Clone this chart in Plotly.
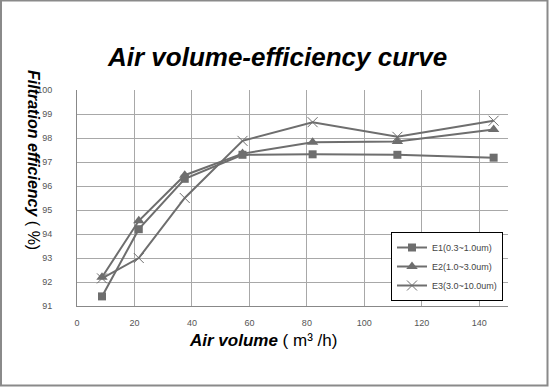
import plotly.graph_objects as go

air_volume = [8.7, 21.5, 37.5, 57.6, 82, 111.5, 145]
e1 = [91.4, 94.2, 96.3, 97.3, 97.32, 97.3, 97.18]
e2 = [92.2, 94.55, 96.45, 97.35, 97.82, 97.85, 98.35]
e3 = [92.15, 93.0, 95.5, 97.88, 98.66, 98.05, 98.72]
names = ["E1(0.3~1.0um)", "E2(1.0~3.0um)", "E3(3.0~10.0um)"]
x_ticks = [0, 20, 40, 60, 80, 100, 120, 140]
y_ticks = [91, 92, 93, 94, 95, 96, 97, 98, 99, 100]

LINE = "#6e6e6e"
fig = go.Figure()
fig.add_trace(go.Scatter(x=air_volume, y=e1, name=names[0], mode="lines+markers",
                         line=dict(color=LINE, width=2),
                         marker=dict(symbol="square", size=8, color=LINE)))
fig.add_trace(go.Scatter(x=air_volume, y=e2, name=names[1], mode="lines+markers",
                         line=dict(color=LINE, width=2),
                         marker=dict(symbol="triangle-up", size=10, color=LINE)))
fig.add_trace(go.Scatter(x=air_volume, y=e3, name=names[2], mode="lines+markers",
                         line=dict(color=LINE, width=2),
                         marker=dict(symbol="x-thin-open", size=10, color=LINE,
                                     line=dict(color="#9a9a9a", width=1))))

L, R, T, B = 77, 41, 90, 82
W, H = 549, 388
pw, ph = W - L - R, H - T - B

def px(x):
    return (x - L) / pw

def py(y):
    return (H - B - y) / ph

fig.update_layout(
    width=W, height=H,
    margin=dict(l=L, r=R, t=T, b=B, autoexpand=False),
    paper_bgcolor="white", plot_bgcolor="white",
    font=dict(family="Liberation Sans, Arial, sans-serif", color="#333"),
    showlegend=True,
    legend=dict(x=px(391), y=py(232), xanchor="left", yanchor="top",
                bordercolor="black", borderwidth=1, bgcolor="white",
                font=dict(size=9, color="#444"), itemwidth=30,
                tracegroupgap=0),
    xaxis=dict(range=[0, 150], tickvals=x_ticks, showgrid=True, automargin=False,
               gridcolor="#a8a8a8", gridwidth=1, showline=True,
               linecolor="#888", linewidth=1, zeroline=False,
               ticks="outside", ticklen=8, tickcolor="rgba(0,0,0,0)",
               tickfont=dict(size=9, color="#555")),
    yaxis=dict(range=[91, 100], tickvals=y_ticks, showgrid=True, automargin=False,
               gridcolor="#a8a8a8", gridwidth=1, showline=True,
               linecolor="#888", linewidth=1, zeroline=False,
               ticks="outside", ticklen=14, tickcolor="rgba(0,0,0,0)",
               ticklabelstandoff=8,
               tickfont=dict(size=9, color="#555")),
    annotations=[
        dict(text="<b><i>Air volume-efficiency curve</i></b>", x=px(277), y=py(57),
             xref="paper", yref="paper", showarrow=False, xanchor="center", yanchor="middle",
             font=dict(size=26, color="black")),
        dict(text="<b><i>Air volume</i></b> ( m\u00b3 /h)", x=px(263), y=py(340),
             xref="paper", yref="paper", showarrow=False, xanchor="center", yanchor="middle",
             font=dict(size=17, color="black")),
        dict(text="<b><i>Filtration efficiency</i></b> ( %)", x=px(34), y=py(160),
             xref="paper", yref="paper", showarrow=False, xanchor="center", yanchor="middle",
             textangle=90, font=dict(size=16, color="black")),
    ],
    shapes=[
        dict(type="rect", xref="paper", yref="paper",
             x0=px(1), x1=px(547.5), y0=py(385.5), y1=py(0.5),
             line=dict(color="#8a8a8a", width=2), fillcolor="rgba(0,0,0,0)"),
    ],
)

fig.write_html("out.html", config={"displayModeBar": False},
               post_script="document.body.style.margin='0px';document.body.style.overflow='hidden';")
